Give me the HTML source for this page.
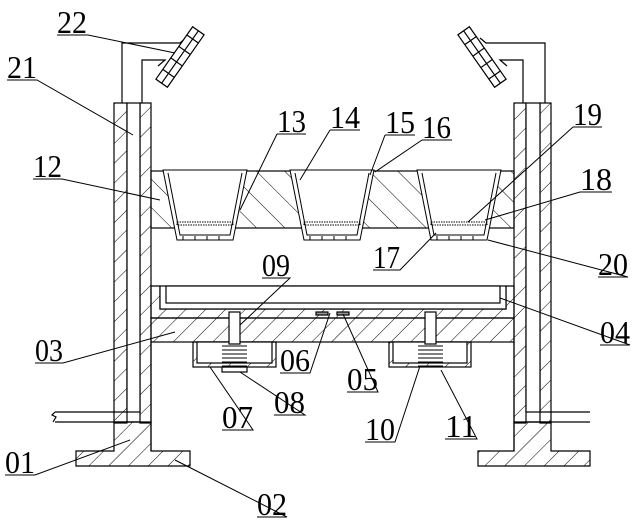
<!DOCTYPE html>
<html><head><meta charset="utf-8"><style>
html,body{margin:0;padding:0;background:#fff;}
svg{display:block}
text{font-family:"Liberation Serif",serif;font-size:32px;fill:#000;}
</style></head><body>
<svg width="640" height="522" viewBox="0 0 640 522" xmlns="http://www.w3.org/2000/svg">
<defs>
<pattern id="h" width="14" height="14" patternUnits="userSpaceOnUse" patternTransform="rotate(45)">
<line x1="0" y1="0" x2="0" y2="14" stroke="#000" stroke-width="1"/>
</pattern>
<pattern id="h2" width="20" height="20" patternUnits="userSpaceOnUse" patternTransform="rotate(-45)">
<line x1="0" y1="0" x2="0" y2="20" stroke="#000" stroke-width="1"/>
</pattern>
<g id="cup">
<path d="M0,0 H84 L70,70 H14 Z" fill="#fff" stroke="#000"/>
<path d="M5,3 L17,65 H67 L79,3" fill="none" stroke="#000"/>
<rect x="14" y="52" width="56" height="3" fill="none" stroke="#000" stroke-dasharray="1.5 1"/>
<line x1="20" y1="70" x2="20" y2="66" stroke="#000"/><line x1="32" y1="70" x2="32" y2="66" stroke="#000"/><line x1="44" y1="70" x2="44" y2="66" stroke="#000"/><line x1="56" y1="70" x2="56" y2="66" stroke="#000"/>
</g>
<g id="nozzle">
<rect x="-32" y="-7" width="64" height="14" fill="#fff" stroke="#000"/>
<line x1="-32" y1="0" x2="32" y2="0" stroke="#000"/>
<line x1="-20" y1="-7" x2="-20" y2="7" stroke="#000"/><line x1="-6" y1="-7" x2="-6" y2="7" stroke="#000"/><line x1="8" y1="-7" x2="8" y2="7" stroke="#000"/><line x1="22" y1="-7" x2="22" y2="7" stroke="#000"/>
</g>
</defs>
<g stroke="#000" stroke-width="1.2" fill="none">
<rect x="151" y="171" width="363" height="57" fill="url(#h2)"/>
<rect x="114" y="103" width="13" height="320" fill="url(#h)"/>
<rect x="140" y="103" width="11" height="320" fill="url(#h)"/>
<rect x="127" y="103" width="13" height="309" fill="#fff"/>
<rect x="514" y="103" width="12" height="320" fill="url(#h)"/>
<rect x="540" y="103" width="11" height="320" fill="url(#h)"/>
<rect x="526" y="103" width="14" height="309" fill="#fff"/>
<path d="M127,412 H55 M140,422 H55 M55,412 l-3,3 l4,2 l-3,5" />
<path d="M540,412 H590 M526,422 H590" />
<path d="M114,422 H151 V451 H190 V466 H76 V451 H114 Z" fill="url(#h)"/>
<path d="M514,422 H551 V451 H590 V466 H478 V451 H514 Z" fill="url(#h)"/>
<path d="M122,103 V43 H180 L186,38 M142,103 V60 H165 L158,66"/>
<path d="M545,103 V43 H486 L480,38 M523,103 V60 H500 L507,66"/>
<use href="#nozzle" transform="translate(180,57) rotate(-55)"/>
<use href="#nozzle" transform="translate(482,57) rotate(55)"/>
<path d="M151,286 V318 H514 V286 H506 V309 H160 V286 Z" fill="url(#h)"/>
<rect x="151" y="318" width="363" height="24" fill="url(#h)"/>
<rect x="160" y="286" width="346" height="23" fill="#fff"/>
<rect x="166" y="286" width="334" height="17" fill="#fff"/>
<line x1="151" y1="342" x2="151" y2="451"/>
<line x1="514" y1="342" x2="514" y2="451"/>
<rect x="316" y="312" width="12" height="3" fill="#999"/><rect x="337" y="312" width="12" height="3" fill="#999"/>
<rect x="193" y="342" width="83" height="25" fill="url(#h)"/>
<rect x="197" y="342" width="75" height="21" fill="#fff"/>
<rect x="389" y="342" width="82" height="25" fill="url(#h)"/>
<rect x="393" y="342" width="74" height="21" fill="#fff"/>
<rect x="229" y="312" width="11" height="32" fill="#fff"/>
<rect x="425" y="312" width="11" height="32" fill="#fff"/>
<rect x="222" y="367" width="25" height="5"/>
<g stroke-width="1">
<path d="M222,346 H247 M222,350 H247 M222,354 H247 M222,358 H247 M222,362 H247 M222,366 H247"/>
<path d="M418,346 H443 M418,350 H443 M418,354 H443 M418,358 H443 M418,362 H443 M418,366 H443"/>
</g>
</g>
<use href="#cup" x="163" y="170"/>
<use href="#cup" x="290" y="170"/>
<use href="#cup" x="417" y="170"/>
<g stroke="#000" stroke-width="1" fill="none">
<path d="M57,35 H88 L175,53"/>
<path d="M7,80 H37 L133,135"/>
<path d="M33,179 H62 L160,200"/>
<path d="M277,134 H306 M277,134 L240,210"/>
<path d="M330,130 H360 M330,130 L300,180"/>
<path d="M385,135 H415 M385,135 L370,175"/>
<path d="M422,140 H452 M422,140 L375,172"/>
<path d="M573,127 H602 M573,127 L468,222"/>
<path d="M580,192 H612 M580,192 L485,220"/>
<path d="M373,270 H400 L436,233"/>
<path d="M598,277 H628 L488,240"/>
<path d="M262,278 H290 L240,325"/>
<path d="M600,345 H630 L500,298"/>
<path d="M35,363 H63 L175,332"/>
<path d="M280,373 H310 L330,313"/>
<path d="M347,392 H378 L343,314"/>
<path d="M274,415 H305 L240,372"/>
<path d="M222,430 H253 L210,367"/>
<path d="M365,442 H395 L420,366"/>
<path d="M445,439 H477 L441,370"/>
<path d="M5,475 H35 L130,440"/>
<path d="M257,517 H287 L175,460"/>
</g>
<g>
<text x="57" y="33" textLength="30" lengthAdjust="spacingAndGlyphs">22</text>
<text x="7" y="78" textLength="30" lengthAdjust="spacingAndGlyphs">21</text>
<text x="33" y="177" textLength="29" lengthAdjust="spacingAndGlyphs">12</text>
<text x="277" y="132" textLength="29" lengthAdjust="spacingAndGlyphs">13</text>
<text x="330" y="128" textLength="30" lengthAdjust="spacingAndGlyphs">14</text>
<text x="385" y="133" textLength="30" lengthAdjust="spacingAndGlyphs">15</text>
<text x="422" y="138" textLength="29" lengthAdjust="spacingAndGlyphs">16</text>
<text x="573" y="125" textLength="29" lengthAdjust="spacingAndGlyphs">19</text>
<text x="580" y="190" textLength="32" lengthAdjust="spacingAndGlyphs">18</text>
<text x="373" y="268" textLength="27" lengthAdjust="spacingAndGlyphs">17</text>
<text x="598" y="275" textLength="30" lengthAdjust="spacingAndGlyphs">20</text>
<text x="262" y="276" textLength="28" lengthAdjust="spacingAndGlyphs">09</text>
<text x="600" y="343" textLength="30" lengthAdjust="spacingAndGlyphs">04</text>
<text x="35" y="361" textLength="28" lengthAdjust="spacingAndGlyphs">03</text>
<text x="280" y="371" textLength="30" lengthAdjust="spacingAndGlyphs">06</text>
<text x="347" y="390" textLength="31" lengthAdjust="spacingAndGlyphs">05</text>
<text x="274" y="413" textLength="31" lengthAdjust="spacingAndGlyphs">08</text>
<text x="222" y="428" textLength="31" lengthAdjust="spacingAndGlyphs">07</text>
<text x="365" y="440" textLength="30" lengthAdjust="spacingAndGlyphs">10</text>
<text x="445" y="437" textLength="32" lengthAdjust="spacingAndGlyphs">11</text>
<text x="5" y="473" textLength="30" lengthAdjust="spacingAndGlyphs">01</text>
<text x="257" y="515" textLength="30" lengthAdjust="spacingAndGlyphs">02</text>
</g>
</svg>
</body></html>
